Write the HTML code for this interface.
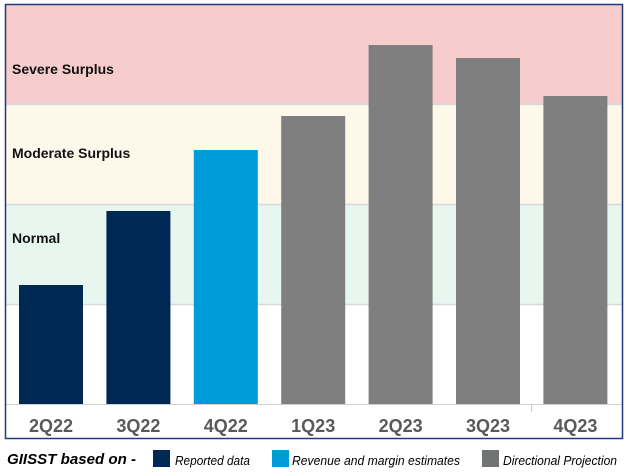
<!DOCTYPE html>
<html><head><meta charset="utf-8"><style>
body{margin:0;background:#fff;width:629px;height:471px;overflow:hidden;font-family:"Liberation Sans",Arial,sans-serif}
svg text{font-family:"Liberation Sans",Arial,sans-serif}
</style></head><body>
<svg id="c" width="629" height="471">
<g id="bands"></g><g id="bars"></g><g id="labels"></g>
<rect x="5.5" y="4.5" width="617" height="434" fill="none" stroke="#1f3a78" stroke-width="1.5"/>
<g>
<text x="7" y="464" font-size="15" font-weight="bold" font-style="italic" fill="#000" textLength="129" lengthAdjust="spacingAndGlyphs">GIISST based on -</text>
<rect x="153" y="450" width="17" height="17" fill="#002855"/>
<text x="175" y="465" font-size="13" font-style="italic" fill="#000" textLength="75" lengthAdjust="spacingAndGlyphs">Reported data</text>
<rect x="272" y="450" width="17" height="17" fill="#009bd9"/>
<text x="292" y="465" font-size="13" font-style="italic" fill="#000" textLength="168" lengthAdjust="spacingAndGlyphs">Revenue and margin estimates</text>
<rect x="482" y="450" width="17" height="17" fill="#707472"/>
<text x="503" y="465" font-size="13" font-style="italic" fill="#000" textLength="114" lengthAdjust="spacingAndGlyphs">Directional Projection</text>
</g>
</svg>
<script>
const categories=["2Q22","3Q22","4Q22","1Q23","2Q23","3Q23","4Q23"];
const values=[1.19,1.93,2.54,2.88,3.59,3.46,3.08];
const kinds=["reported","reported","estimate","projection","projection","projection","projection"];
const bandNames=["Normal","Moderate Surplus","Severe Surplus"];
const bandLower=[1,2,3];
const bandLabelAt=[1.66,2.51,3.35];
const NS="http://www.w3.org/2000/svg";
const y=v=>404-v*100;
const x=i=>19+i*87.4;
const colors={reported:"#002855",estimate:"#009bd9",projection:"#7f7f7f"};
const bandFill=["#e8f6f0","#fef8ea","#f6cccc"];
function mk(t,a,p){const e=document.createElementNS(NS,t);for(const k in a)e.setAttribute(k,a[k]);p.appendChild(e);return e;}
const B=document.getElementById("bands");
bandLower.forEach((lo,i)=>{
 const top=Math.max(y(lo+1),5);
 const r=mk("rect",{x:6,y:top,width:616,height:y(lo)-top,fill:bandFill[i]},B);
 
 
 const l=mk("line",{x1:6,x2:622,y1:y(lo)+0.5,y2:y(lo)+0.5,stroke:"#d8d8d8","stroke-width":1.5},B);
 
 
 const t=mk("text",{x:12,y:y(bandLabelAt[i])+5,"font-size":14,"font-weight":"bold",fill:"#111"},B);
 t.textContent=bandNames[i];
 
 
});
const al=mk("line",{x1:6,x2:622,y1:404.5,y2:404.5,stroke:"#d0d0d0","stroke-width":1},B);


const tk=mk("line",{x1:531.5,x2:531.5,y1:404,y2:412,stroke:"#d0d0d0"},B);


const G=document.getElementById("bars"),L=document.getElementById("labels");
categories.forEach((c,i)=>{
 const r=mk("rect",{x:x(i),y:y(values[i]),width:64,height:404-y(values[i]),fill:colors[kinds[i]]},G);
 
 
 const t=mk("text",{x:x(i)+32,y:432,"font-size":18,"font-weight":"bold",fill:"#595959","text-anchor":"middle"},L);
 t.textContent=c;
 
 
});
</script>
</body></html>
